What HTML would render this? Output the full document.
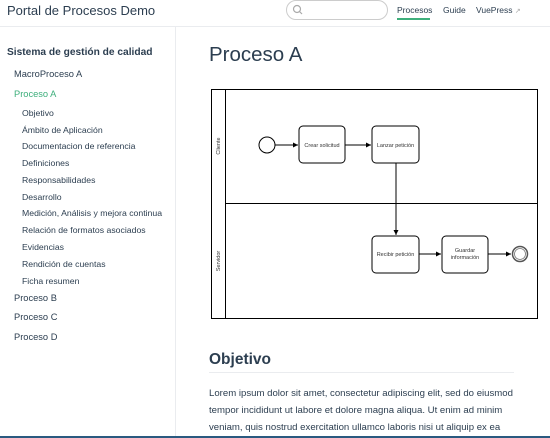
<!DOCTYPE html>
<html><head><meta charset="utf-8"><style>
*{margin:0;padding:0;box-sizing:border-box}
body{width:550px;height:438px;overflow:hidden;background:#fff;font-family:"Liberation Sans",sans-serif;color:#2c3e50;position:relative}
.a{position:absolute;white-space:nowrap}
.s{font-size:8.7px;color:#2c3e50;left:22px}
.t{font-size:9.3px;left:14px}
</style></head><body>
<div class="a" style="left:0;top:0;width:550px;height:27px;border-bottom:1px solid #eaecef"></div>
<div class="a" style="left:7px;top:3px;font-size:13px;color:#2c3e50">Portal de Procesos Demo</div>
<div class="a" style="left:286px;top:0px;width:102px;height:20px;border:1px solid #ccc;border-radius:10px"></div>
<svg class="a" style="left:292px;top:4px" width="12" height="12"><circle cx="5" cy="5" r="3.5" fill="none" stroke="#aaa" stroke-width="1.2"/><line x1="7.5" y1="7.5" x2="10" y2="10" stroke="#aaa" stroke-width="1.2"/></svg>
<div class="a" style="left:397px;top:5px;font-size:8.5px">Procesos</div>
<div class="a" style="left:397px;top:18px;width:33px;height:2px;background:#3eaf7c"></div>
<div class="a" style="left:443px;top:5px;font-size:8.5px">Guide</div>
<div class="a" style="left:476px;top:5px;font-size:8.5px">VuePress <span style="color:#aaa;font-size:7px">↗</span></div>
<div class="a" style="left:175px;top:27px;width:1px;height:411px;background:#eaecef"></div>
<div class="a" style="left:7px;top:47px;font-size:10.2px;font-weight:bold">Sistema de gestión de calidad</div>
<div class="a t" style="top:69px">MacroProceso A</div>
<div class="a t" style="top:89px;color:#3eaf7c">Proceso A</div>
<div class="a s" style="top:108px">Objetivo</div>
<div class="a s" style="top:125px">Ámbito de Aplicación</div>
<div class="a s" style="top:141px">Documentacion de referencia</div>
<div class="a s" style="top:158px">Definiciones</div>
<div class="a s" style="top:175px">Responsabilidades</div>
<div class="a s" style="top:192px">Desarrollo</div>
<div class="a s" style="top:208px">Medición, Análisis y mejora continua</div>
<div class="a s" style="top:225px">Relación de formatos asociados</div>
<div class="a s" style="top:242px">Evidencias</div>
<div class="a s" style="top:259px">Rendición de cuentas</div>
<div class="a s" style="top:276px">Ficha resumen</div>
<div class="a t" style="top:293px">Proceso B</div>
<div class="a t" style="top:312px">Proceso C</div>
<div class="a t" style="top:332px">Proceso D</div>
<div class="a" style="left:209px;top:43px;font-size:20.5px">Proceso A</div>
<svg class="a" style="left:0;top:0" width="550" height="438" font-family="Liberation Sans,sans-serif" font-size="5.5" fill="#333">
<defs><marker id="m" markerWidth="6" markerHeight="6" refX="5" refY="3" orient="auto"><path d="M0,0.5L5,3L0,5.5z" fill="#000"/></marker></defs>
<g stroke="#000" stroke-width="1" fill="none">
<rect x="211.5" y="89.5" width="326" height="229"/>
<line x1="225.5" y1="89.5" x2="225.5" y2="318.5"/>
<line x1="225.5" y1="203.5" x2="537.5" y2="203.5"/>
<circle cx="267" cy="145" r="8"/>
<rect x="299" y="126" width="46" height="37" rx="4"/>
<rect x="372" y="126" width="47" height="37" rx="4"/>
<rect x="372" y="236" width="47" height="37" rx="4"/>
<rect x="442" y="236" width="46" height="37" rx="4"/>
<circle cx="520" cy="254" r="7.5" stroke="#555" stroke-width="1.5"/>
<circle cx="520" cy="254" r="5.5" stroke="#777" stroke-width="0.8"/>
<line x1="275" y1="145" x2="298" y2="145" marker-end="url(#m)"/>
<line x1="345" y1="145" x2="371" y2="145" marker-end="url(#m)"/>
<line x1="396" y1="163" x2="396" y2="235" marker-end="url(#m)"/>
<line x1="419" y1="254" x2="441" y2="254" marker-end="url(#m)"/>
<line x1="488" y1="254" x2="511" y2="254" marker-end="url(#m)"/>
</g>
<text x="322" y="147" text-anchor="middle">Crear solicitud</text>
<text x="395.5" y="147" text-anchor="middle">Lanzar petición</text>
<text x="395.5" y="256" text-anchor="middle">Recibir petición</text>
<text x="465" y="252" text-anchor="middle">Guardar</text>
<text x="465" y="259" text-anchor="middle">información</text>
<text transform="translate(220,146) rotate(-90)" text-anchor="middle">Cliente</text>
<text transform="translate(220,261) rotate(-90)" text-anchor="middle">Servidor</text>
</svg>
<div class="a" style="left:209px;top:351px;font-size:15.5px;font-weight:bold;color:#2c3e50">Objetivo</div>
<div class="a" style="left:209px;top:372px;width:305px;height:1px;background:#eaecef"></div>
<div class="a" style="left:209px;top:385px;font-size:9.6px;line-height:17px;color:#2c3e50">Lorem ipsum dolor sit amet, consectetur adipiscing elit, sed do eiusmod<br>tempor incididunt ut labore et dolore magna aliqua. Ut enim ad minim<br>veniam, quis nostrud exercitation ullamco laboris nisi ut aliquip ex ea</div>
<div class="a" style="left:0;top:436px;width:550px;height:2px;background:#2a5a80"></div>
</body></html>
